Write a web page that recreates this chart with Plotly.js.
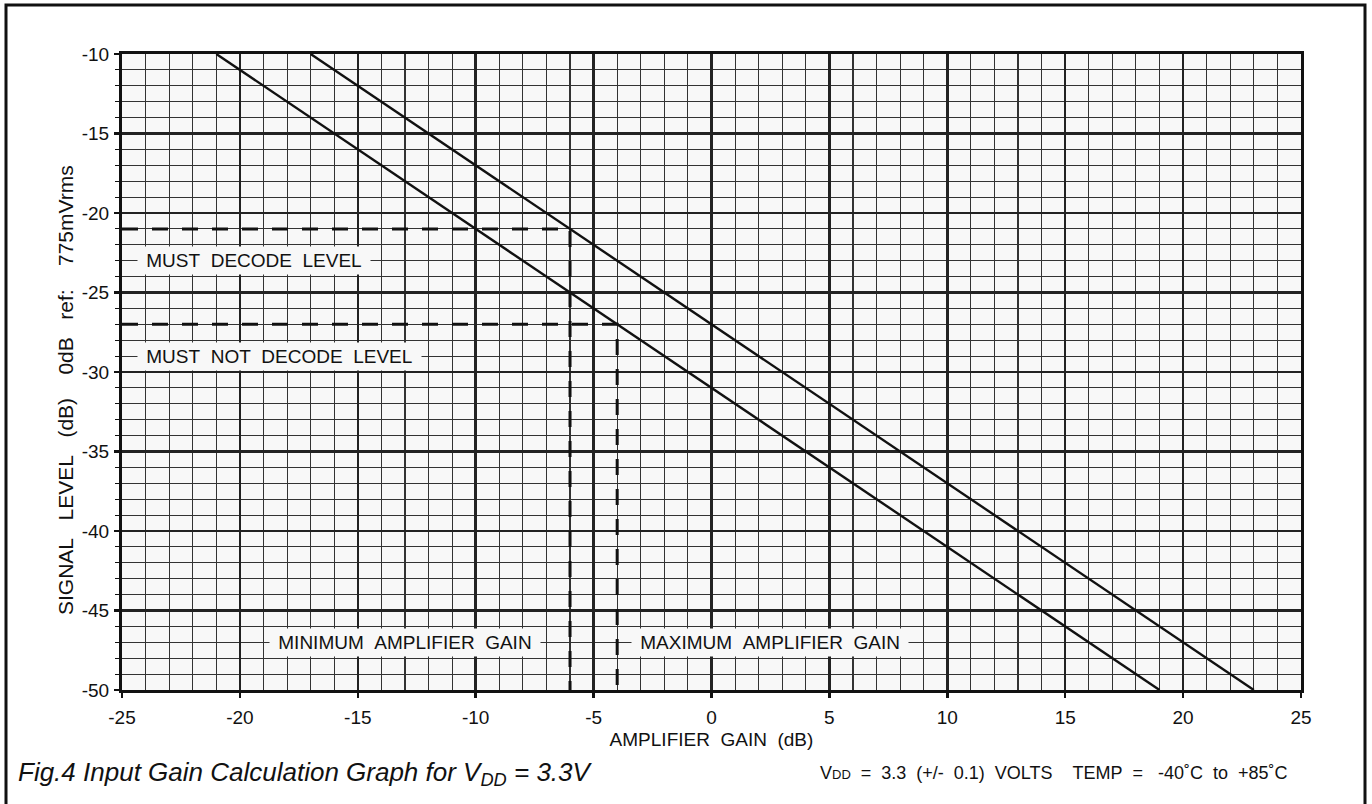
<!DOCTYPE html>
<html>
<head>
<meta charset="utf-8">
<script src="https://cdn.plot.ly/plotly-3.0.1.min.js"></script>
<style>
  html, body { margin: 0; padding: 0; background: #ffffff; }
  #chart { width: 1372px; height: 804px; }
</style>
</head>
<body>
<div id="chart"></div>
<script>
// ---- data ----
const upperGain = [-17, 23];
const upperLevel = [-10, -50];
const lowerGain = [-21, 19];
const lowerLevel = [-10, -50];
const mustDecodeGain = [-25, -6, -6];
const mustDecodeLevel = [-21, -21, -50];
const mustNotDecodeGain = [-25, -4, -4];
const mustNotDecodeLevel = [-27, -27, -50];
const xTicks = [-25, -20, -15, -10, -5, 0, 5, 10, 15, 20, 25];
const yTicks = [-10, -15, -20, -25, -30, -35, -40, -45, -50];

const NB = '\u00a0';
const sp = (s, n) => s.replace(/ /g, NB.repeat(n || 2));
const sans = '"Liberation Sans", Arial, sans-serif';
const plotBg = '#f8f8f8';
const ink = '#111111';

const solid = { color: ink, width: 2.4 };
const dashed = { color: ink, width: 3, dash: '16px,14px' };

const traces = [
  { x: upperGain, y: upperLevel, mode: 'lines', line: solid, hoverinfo: 'skip', showlegend: false },
  { x: lowerGain, y: lowerLevel, mode: 'lines', line: solid, hoverinfo: 'skip', showlegend: false },
  { x: mustDecodeGain, y: mustDecodeLevel, mode: 'lines', line: dashed, hoverinfo: 'skip', showlegend: false },
  { x: mustNotDecodeGain, y: mustNotDecodeLevel, mode: 'lines', line: dashed, hoverinfo: 'skip', showlegend: false }
];

const L = 122, T = 54, W = 1179, H = 636;
const px = (p) => (p - L) / W;
const py = (p) => (T + H - p) / H;

function label(text, x, y) {
  return {
    x: x, y: y, xref: 'x', yref: 'y', text: NB + sp(text) + NB,
    showarrow: false, xanchor: 'center', yanchor: 'middle',
    bgcolor: plotBg, borderpad: 3,
    font: { family: sans, size: 19, color: ink }
  };
}

const yTitle = sp('SIGNAL LEVEL (dB)', 3) + NB.repeat(4) + sp('0dB ref:', 3) + NB.repeat(4) + '775mVrms';

const layout = {
  width: 1372, height: 804,
  margin: { l: L, r: 1372 - L - W, t: T, b: 804 - T - H, pad: 0 },
  paper_bgcolor: '#ffffff',
  plot_bgcolor: plotBg,
  showlegend: false,
  xaxis: {
    range: [-25, 25], tickvals: xTicks, ticktext: xTicks.map(String),
    showgrid: true, gridcolor: '#222222', gridwidth: 2.5,
    zeroline: false,
    showline: true, linecolor: ink, linewidth: 3, mirror: true,
    ticks: 'outside', ticklen: 5, tickwidth: 2.5, tickcolor: ink,
    ticklabelstandoff: 3,
    tickfont: { family: sans, size: 19, color: ink },
    minor: { dtick: 1, showgrid: true, gridcolor: '#333333', gridwidth: 1.1, ticks: '' },
    title: { text: sp('AMPLIFIER GAIN (dB)'), font: { family: sans, size: 19, color: ink }, standoff: 6 },
    fixedrange: true
  },
  yaxis: {
    range: [-50, -10], tickvals: yTicks, ticktext: yTicks.map(String),
    showgrid: true, gridcolor: '#222222', gridwidth: 2.5,
    zeroline: false,
    showline: true, linecolor: ink, linewidth: 3, mirror: true,
    ticks: 'outside', ticklen: 5, tickwidth: 2.5, tickcolor: ink,
    ticklabelstandoff: 1,
    tickfont: { family: sans, size: 19, color: ink },
    minor: { dtick: 1, showgrid: true, gridcolor: '#333333', gridwidth: 1.1, ticks: 'outside', ticklen: 4, tickwidth: 1, tickcolor: ink },
    fixedrange: true
  },
  annotations: [
    label('MUST DECODE LEVEL', -19.4, -23),
    label('MUST NOT DECODE LEVEL', -18.3, -29),
    label('MINIMUM AMPLIFIER GAIN', -13.0, -47),
    label('MAXIMUM AMPLIFIER GAIN', 2.5, -47),
    {
      xref: 'paper', yref: 'paper', x: px(65), y: py(390), xanchor: 'center', yanchor: 'middle',
      showarrow: false, textangle: -90,
      text: yTitle,
      font: { family: sans, size: 21, color: ink }
    },
    {
      xref: 'paper', yref: 'paper', x: px(16), y: py(773), xanchor: 'left', yanchor: 'middle',
      showarrow: false,
      text: '<i>Fig.4 Input Gain Calculation Graph for V<sub>DD</sub> = 3.3V</i>',
      font: { family: sans, size: 26, color: ink }
    },
    {
      xref: 'paper', yref: 'paper', x: px(818), y: py(773), xanchor: 'left', yanchor: 'middle',
      showarrow: false,
      text: 'V<span style="font-size:13px">DD</span>' + NB + NB + '=' + NB + NB + '3.3' + NB + NB + '(+/-' + NB + NB + '0.1)' + NB + NB + 'VOLTS' + NB + NB + NB + NB + 'TEMP' + NB + NB + '=' + NB + NB + NB + '-40˚C' + NB + NB + 'to' + NB + NB + '+85˚C',
      font: { family: sans, size: 18, color: ink }
    }
  ],
  shapes: [
    {
      type: 'rect', xref: 'paper', yref: 'paper', layer: 'above',
      x0: px(6), x1: px(1365), y0: py(812), y1: py(5),
      line: { color: ink, width: 3 }, fillcolor: 'rgba(0,0,0,0)'
    }
  ]
};

Plotly.newPlot('chart', traces, layout, { displayModeBar: false, staticPlot: true });
</script>
</body>
</html>
